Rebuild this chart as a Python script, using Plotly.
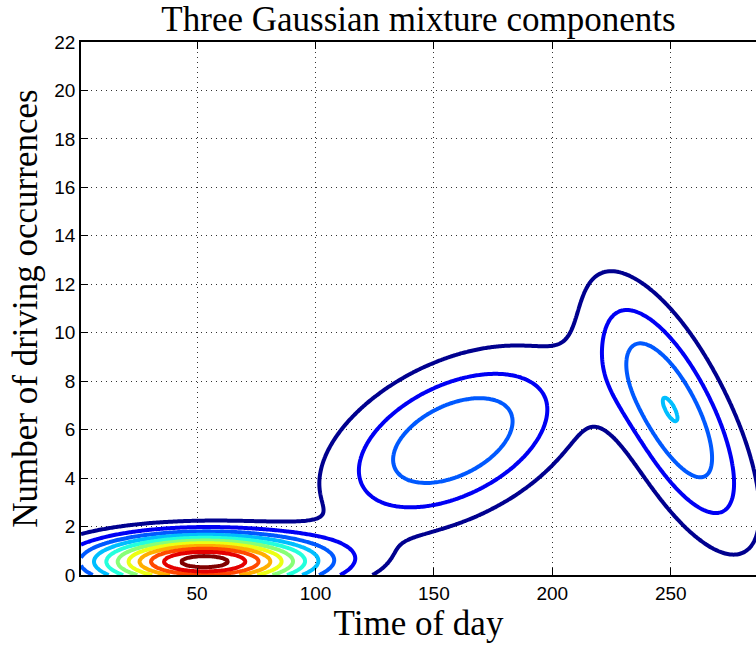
import numpy as np
import plotly.graph_objects as go

title_text = "Three Gaussian mixture components"
x_label = "Time of day"
y_label = "Number of driving occurrences"

# Gaussian mixture components
# (peak heights expressed in contour-level units)
comp_mean_x = [53, 158, 251]
comp_mean_y = [0.55, 5.55, 6.65]
comp_sd_x = [32, 34, 22]
comp_sd_y = [0.76, 2.36, 3.5]
comp_rho = [0.0, 0.45, -0.7]
comp_peak = [11.5, 3.95, 3.965]

level_start, level_end, level_step = 1, 11, 1
x_ticks = [50, 100, 150, 200, 250]
y_ticks = list(range(0, 23, 2))
x_range = [1, 286]
y_range = [0, 22]

xs = np.arange(1, 289, 1.0)
ys = np.arange(0, 22.05, 0.1)
X, Y = np.meshgrid(xs, ys)
Z = np.zeros_like(X)
for mx, my, sx, sy, r, h in zip(comp_mean_x, comp_mean_y, comp_sd_x, comp_sd_y, comp_rho, comp_peak):
    dx = (X - mx) / sx
    dy = (Y - my) / sy
    q = (dx * dx - 2 * r * dx * dy + dy * dy) / (1 - r * r)
    Z += h * np.exp(-0.5 * q)

jet = [[0.0, "rgb(0,0,143)"], [0.111, "rgb(0,0,255)"], [0.365, "rgb(0,255,255)"],
       [0.619, "rgb(255,255,0)"], [0.873, "rgb(255,0,0)"], [1.0, "rgb(128,0,0)"]]

fig = go.Figure(go.Contour(
    x=xs, y=ys, z=Z,
    contours=dict(start=level_start, end=level_end, size=level_step, coloring="lines"),
    colorscale=jet, line=dict(width=4, smoothing=0.6), showscale=False, hoverinfo="skip",
))

axis_common = dict(
    ticks="inside", ticklen=7, tickcolor="black", tickwidth=1,
    showline=True, linecolor="black", linewidth=1.5,
    showgrid=True, gridcolor="#333", gridwidth=1, griddash="1px,4px",
    zeroline=False,
    tickfont=dict(family="Liberation Sans, Arial", size=19, color="black"),
)

fig.update_layout(
    width=756, height=645,
    margin=dict(l=81, r=0, t=42, b=70),
    paper_bgcolor="white", plot_bgcolor="white",
    title=dict(text=title_text, x=0.5535, xanchor="center", y=0.99, yanchor="top",
               font=dict(family="Liberation Serif, Times New Roman", size=35, color="black")),
    xaxis=dict(range=x_range, tickvals=x_ticks, mirror="ticks", **axis_common,
               title=dict(text=x_label, standoff=8,
                          font=dict(family="Liberation Serif, Times New Roman", size=35, color="black"))),
    yaxis=dict(range=y_range, tickvals=y_ticks, **axis_common,
               title=dict(text=y_label, standoff=6,
                          font=dict(family="Liberation Serif, Times New Roman", size=35, color="black"))),
)

fig.write_html("out.html")
